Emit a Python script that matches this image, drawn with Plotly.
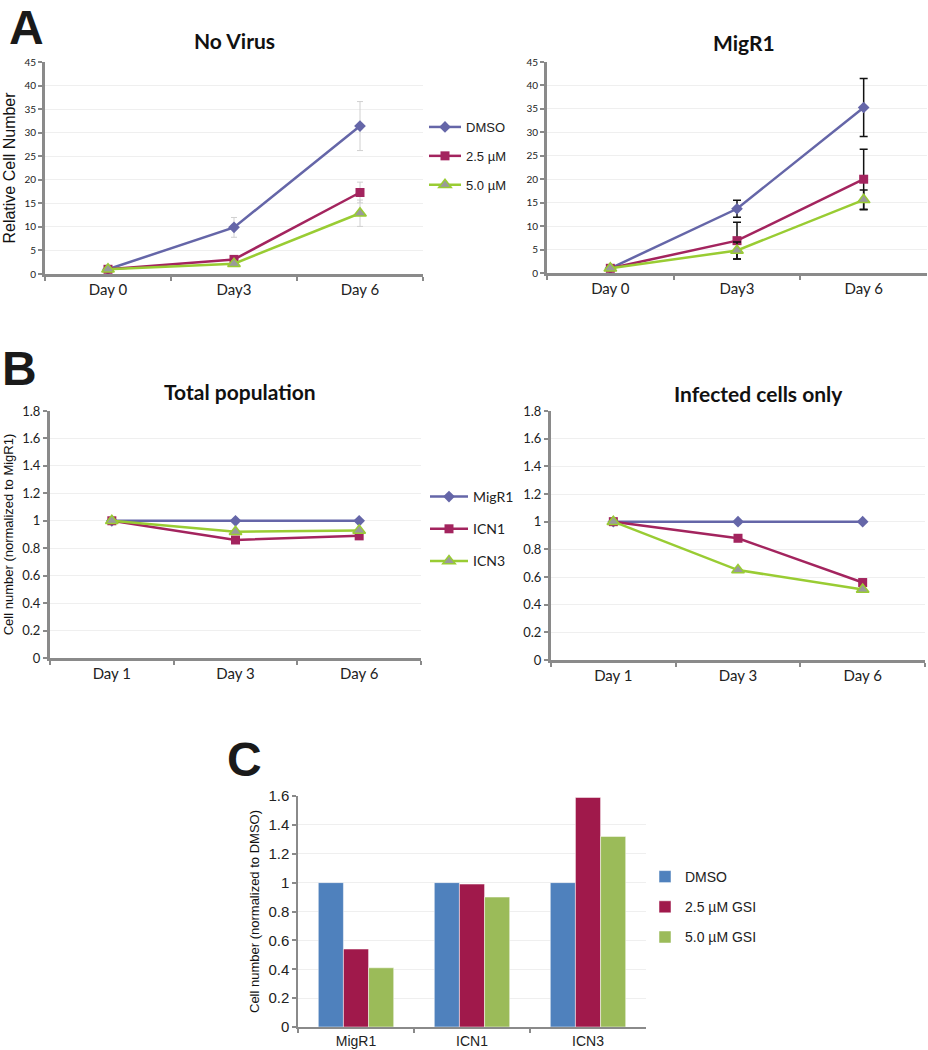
import plotly.graph_objects as go

# ---------------- data ----------------
days_a = ["Day 0", "Day3", "Day 6"]
a_series = ["DMSO", "2.5 µM", "5.0 µM"]
nov_dmso = [1, 9.9, 31.4]
nov_25 = [1, 3.1, 17.3]
nov_50 = [1, 2.2, 12.9]
nov_dmso_err = [0, 2.1, 5.2]
nov_25_err = [0, 0.6, 2.2]
nov_50_err = [0, 0.5, 2.8]
mig_dmso = [1, 13.7, 35.3]
mig_25 = [1, 6.9, 20.0]
mig_50 = [1, 4.8, 15.6]
mig_dmso_err = [0, 1.8, 6.2]
mig_25_err = [0, 3.9, 6.4]
mig_50_err = [0, 1.8, 2.1]

days_b = ["Day 1", "Day 3", "Day 6"]
b_series = ["MigR1", "ICN1", "ICN3"]
tot_migr1 = [1, 1, 1]
tot_icn1 = [1, 0.86, 0.89]
tot_icn3 = [1, 0.92, 0.93]
inf_migr1 = [1, 1, 1]
inf_icn1 = [1, 0.88, 0.56]
inf_icn3 = [1, 0.65, 0.51]

c_groups = ["MigR1", "ICN1", "ICN3"]
c_series = ["DMSO", "2.5 µM GSI", "5.0 µM GSI"]
c_dmso = [1, 1, 1]
c_25 = [0.54, 0.99, 1.59]
c_50 = [0.41, 0.90, 1.32]

# ---------------- styles ----------------
C_BLUE = "#6566A8"
C_RED = "#A3245E"
C_GREEN = "#99CC33"
AX = "#8a8a8a"
W, H = 928, 1050

def dom(p0, p1, total, flip=False):
    if flip:
        return [1 - p1 / total, 1 - p0 / total]
    return [p0 / total, p1 / total]

fig = go.Figure()

markers = [
    dict(symbol="diamond", size=9, color=C_BLUE),
    dict(symbol="square", size=9, color=C_RED),
    dict(symbol="triangle-up", size=11, color="#9a9a9a", line=dict(color=C_GREEN, width=1.5)),
]
colors = [C_BLUE, C_RED, C_GREEN]

# Panel A left
for i, (name, ys, err) in enumerate(zip(a_series, [nov_dmso, nov_25, nov_50],
                                         [nov_dmso_err, nov_25_err, nov_50_err])):
    fig.add_trace(go.Scatter(
        x=days_a, y=ys, name=name, mode="lines+markers",
        line=dict(color=colors[i], width=2.5), marker=markers[i],
        error_y=dict(type="data", array=err, color="#d0d0d0", thickness=1, width=3),
        xaxis="x", yaxis="y", legend="legend", legendgroup=name,
    ))
# Panel A right
for i, (name, ys, err) in enumerate(zip(a_series, [mig_dmso, mig_25, mig_50],
                                         [mig_dmso_err, mig_25_err, mig_50_err])):
    fig.add_trace(go.Scatter(
        x=days_a, y=ys, name=name, mode="lines+markers", showlegend=False,
        line=dict(color=colors[i], width=2.5), marker=markers[i],
        error_y=dict(type="data", array=err, color="#111111", thickness=1.5, width=4),
        xaxis="x2", yaxis="y2",
    ))
# Panel B left
for i, (name, ys) in enumerate(zip(b_series, [tot_migr1, tot_icn1, tot_icn3])):
    fig.add_trace(go.Scatter(
        x=days_b, y=ys, name=name, mode="lines+markers",
        line=dict(color=colors[i], width=2.5), marker=markers[i],
        xaxis="x3", yaxis="y3", legend="legend2", legendgroup=name,
    ))
# Panel B right
for i, (name, ys) in enumerate(zip(b_series, [inf_migr1, inf_icn1, inf_icn3])):
    fig.add_trace(go.Scatter(
        x=days_b, y=ys, name=name, mode="lines+markers", showlegend=False,
        line=dict(color=colors[i], width=2.5), marker=markers[i],
        xaxis="x4", yaxis="y4",
    ))
# Panel C
bar_colors = ["#4F81BD", "#A0194B", "#9BBB59"]
for i, (name, ys) in enumerate(zip(c_series, [c_dmso, c_25, c_50])):
    fig.add_trace(go.Bar(
        x=c_groups, y=ys, name=name, marker=dict(color=bar_colors[i], line=dict(color="white", width=0.5)),
        xaxis="x5", yaxis="y5", legend="legend3", legendgroup=name,
    ))

tickfont_small = dict(family="Lato", size=10, color="#222")
tickfont_b = dict(family="Lato", size=13, color="#222")
xfont = dict(family="Lato", size=15, color="#222")

def xcat(domain, anchor, font, lw=3):
    return dict(domain=domain, anchor=anchor, type="category", range=[-0.5, 2.5],
                showline=True, linecolor=AX, linewidth=lw, ticks="outside",
                tickson="boundaries", ticklen=4, tickwidth=2, tickcolor=AX,
                showgrid=False, tickfont=font, zeroline=False, fixedrange=True,
                automargin=False)

def yax(domain, anchor, rng, dtick, font, lw=3):
    return dict(domain=domain, anchor=anchor, range=rng, dtick=dtick,
                showline=True, linecolor=AX, linewidth=lw, ticks="outside",
                ticklen=4, tickwidth=2, tickcolor=AX, showgrid=True,
                gridcolor="#efefef", gridwidth=1, zeroline=False, tickfont=font,
                fixedrange=True, automargin=False)

layout = dict(
    width=W, height=H, margin=dict(l=0, r=0, t=0, b=0, autoexpand=False),
    paper_bgcolor="white", plot_bgcolor="white",
    showlegend=True, barmode="group", bargap=0.35, bargroupgap=0,
    xaxis=xcat(dom(45, 423, W), "y", xfont),
    yaxis=yax(dom(62, 274, H, True), "x", [0, 45], 5, tickfont_small),
    xaxis2=xcat(dom(547, 927, W), "y2", xfont),
    yaxis2=yax(dom(62, 273, H, True), "x2", [0, 45], 5, tickfont_small),
    xaxis3=xcat(dom(50, 421, W), "y3", xfont),
    yaxis3=yax(dom(411, 658, H, True), "x3", [0, 1.8], 0.2, tickfont_b),
    xaxis4=xcat(dom(551, 925, W), "y4", xfont),
    yaxis4=yax(dom(411, 660, H, True), "x4", [0, 1.8], 0.2, tickfont_b),
    xaxis5=xcat(dom(298, 646, W), "y5", dict(family="Liberation Sans", size=14, color="#222"), lw=1.5),
    yaxis5=yax(dom(796, 1027, H, True), "x5", [0, 1.6], 0.2,
               dict(family="Liberation Sans", size=15, color="#222"), lw=1.5),
    legend=dict(x=424 / W, y=1 - 112 / H, xanchor="left", yanchor="top",
                font=dict(family="Liberation Sans", size=13, color="#222"),
                bgcolor="rgba(0,0,0,0)", tracegroupgap=9, itemwidth=32),
    legend2=dict(x=425 / W, y=1 - 481 / H, xanchor="left", yanchor="top",
                 font=dict(family="Lato", size=14, color="#222"),
                 bgcolor="rgba(0,0,0,0)", tracegroupgap=11, itemwidth=38),
    legend3=dict(x=645 / W, y=1 - 861 / H, xanchor="left", yanchor="top",
                 font=dict(family="Liberation Sans", size=14, color="#222"),
                 bgcolor="rgba(0,0,0,0)", tracegroupgap=9),
)
fig.update_layout(**layout)

fig.update_layout(
    yaxis=dict(title=dict(text="Relative Cell Number", font=dict(family="Liberation Sans", size=16, color="#111"), standoff=5)),
    yaxis3=dict(title=dict(text="Cell number (normalized to MigR1)", font=dict(family="Liberation Sans", size=13, color="#111"), standoff=6)),
    yaxis5=dict(title=dict(text="Cell number (normalized to DMSO)", font=dict(family="Liberation Sans", size=13, color="#111"), standoff=6)),
)

titles = [
    ("No Virus", 234, 41), ("MigR1", 744, 42),
    ("Total population", 240, 392), ("Infected cells only", 758, 393),
]
for text, px, py in titles:
    fig.add_annotation(text=f"<b>{text}</b>", x=px / W, y=1 - py / H, xref="paper", yref="paper",
                       showarrow=False, font=dict(family="Lato", size=21, color="#111"),
                       xanchor="center", yanchor="middle")

letters = [("A", 26, 28), ("B", 19, 368), ("C", 244, 759)]
for text, px, py in letters:
    fig.add_annotation(text=f"<b>{text}</b>", x=px / W, y=1 - py / H, xref="paper", yref="paper",
                       showarrow=False, font=dict(family="Liberation Sans", size=48, color="#1a1a1a"),
                       xanchor="center", yanchor="middle")

fig.write_html("out.html", config={"displayModeBar": False},
               post_script="document.body.style.margin='0px';")
